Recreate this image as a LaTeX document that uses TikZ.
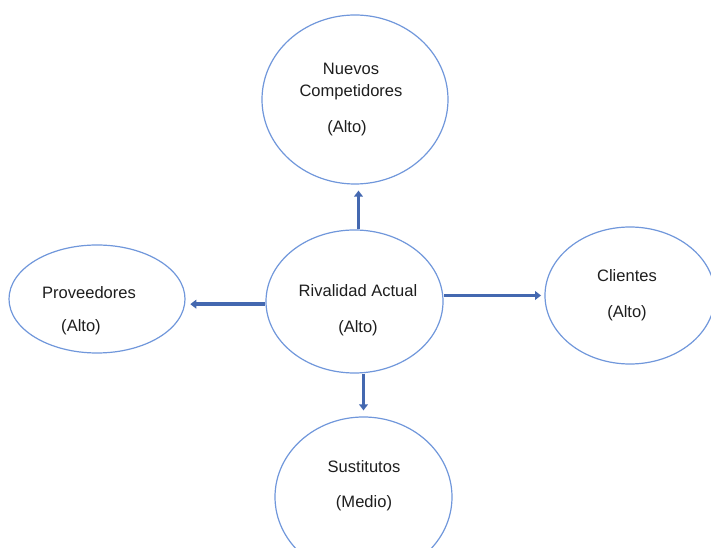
\documentclass[tikz,border=0pt]{standalone}
\usepackage{fontspec}
\setmainfont{Liberation Sans}
\definecolor{bordeazul}{HTML}{7097DB}
\definecolor{flechaazul}{HTML}{4468B0}
\definecolor{textogris}{HTML}{1E1E1E}
\usepackage{tikz}
\usetikzlibrary{
    arrows.meta,
    shapes.geometric,
    positioning,
    calc
}
\tikzstyle{fuerza} = [
    ellipse,
    draw=bordeazul,
    line width=0.9pt,
    fill=white,
    inner sep=0pt
]
\tikzstyle{texto} = [
    align=center,
    text=textogris,
    font=\fontsize{12.4}{15}\selectfont
]
\tikzstyle{flecha} = [
    -{Triangle[width=6.5pt, length=4.5pt]},
    line width=2.9pt,
    draw=flechaazul
]

\begin{document}
\begin{tikzpicture}[x=0.75pt, y=-0.75pt]
        \useasboundingbox (0,0) rectangle (711,548);

        % Central force
        \node[fuerza, minimum width=132.75pt, minimum height=107.25pt] (rivalidad) at (354.5,301.5) {};
        \node[texto] (rivalidad-txt) at (358,310) {Rivalidad Actual\\[12pt](Alto)};

        % Outer forces
        \node[fuerza, minimum width=139.5pt, minimum height=126.75pt] (nuevos) at (355,99.5) {};
        \node[texto] (nuevos-txt) at (351,99.5) {Nuevos\\[2pt]Competidores\\[12pt]\hspace*{-6pt}(Alto)};

        \node[fuerza, minimum width=132pt, minimum height=81pt] (proveedores) at (97,299) {};
        \node[texto] (proveedores-txt) at (89,310.5) {Proveedores\\[10pt]\hspace*{-12pt}(Alto)};

        \node[fuerza, minimum width=127.5pt, minimum height=102.75pt] (clientes) at (630,295.5) {};
        \node[texto] (clientes-txt) at (627,295) {Clientes\\[12pt](Alto)};

        \node[fuerza, minimum width=132.75pt, minimum height=120pt] (sustitutos) at (363.5,497) {};
        \node[texto] (sustitutos-txt) at (364,485.5) {Sustitutos\\[11pt](Medio)};

        % Arrows
        \draw[flecha, shorten >=4.5pt] ([xshift=3pt]rivalidad.north) -- ([xshift=3pt]rivalidad.north |- nuevos.south);
        \draw[flecha, shorten >=4.5pt] (sustitutos.north |- rivalidad.south) -- (sustitutos.north);
        \draw[flecha, shorten >=2.5pt] (rivalidad.east |- clientes.west) -- (clientes.west);
        \draw[flecha, shorten >=3.5pt] ([yshift=-2pt]rivalidad.west) -- ([yshift=-2pt]rivalidad.west -| proveedores.east);
    \end{tikzpicture}
\end{document}
